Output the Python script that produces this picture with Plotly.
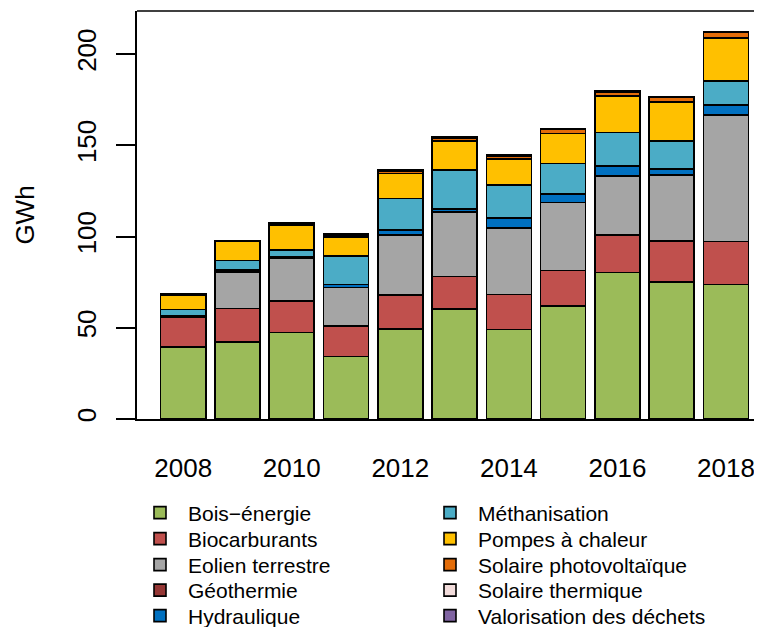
import plotly.graph_objects as go

years = [2008, 2009, 2010, 2011, 2012, 2013, 2014, 2015, 2016, 2017, 2018]
tick_years = [2008, 2010, 2012, 2014, 2016, 2018]

bois = [39.3, 42.2, 47.3, 34.2, 49.2, 60.3, 49.1, 61.9, 80.2, 75.1, 73.8]
biocarb = [16.6, 18.3, 17.5, 16.9, 18.7, 17.7, 19.2, 19.4, 20.8, 22.6, 23.4]
eolien = [0.3, 20.2, 23.3, 20.9, 32.9, 35.3, 36.4, 37.4, 32.3, 36.0, 69.4]
geoth = [0.0, 0.0, 0.0, 0.0, 0.0, 0.0, 0.0, 0.0, 0.0, 0.0, 0.0]
hydro = [0.3, 0.8, 0.8, 1.8, 2.8, 1.9, 5.4, 4.6, 5.5, 3.3, 5.5]
metha = [3.6, 5.3, 3.8, 15.5, 17.3, 21.2, 18.3, 16.8, 18.3, 15.2, 13.1]
pac = [7.8, 10.4, 13.7, 10.6, 13.7, 15.9, 14.1, 16.4, 19.9, 21.5, 23.7]
pv = [0.2, 0.3, 0.5, 1.0, 1.3, 1.8, 1.8, 2.2, 2.2, 2.4, 3.0]
sol_th = [0.3, 0.3, 0.4, 0.4, 0.5, 0.5, 0.5, 0.5, 0.5, 0.5, 0.5]
valor = [0.0, 0.0, 0.0, 0.0, 0.0, 0.0, 0.0, 0.0, 0.0, 0.0, 0.0]

series = [
    ("Bois−énergie", bois, "#9BBB59"),
    ("Biocarburants", biocarb, "#C0504D"),
    ("Eolien terrestre", eolien, "#A5A5A5"),
    ("Géothermie", geoth, "#953735"),
    ("Hydraulique", hydro, "#0070C0"),
    ("Méthanisation", metha, "#4BACC6"),
    ("Pompes à chaleur", pac, "#FFC000"),
    ("Solaire photovoltaïque", pv, "#E36C09"),
    ("Solaire thermique", sol_th, "#F2DCDB"),
    ("Valorisation des déchets", valor, "#8064A2"),
]

# page geometry (figure drawn at 8px body offset)
PX0, PX1, PY0, PY1 = 137, 762, 11, 419
row_centres = [513, 539, 565, 590.5, 616]
col_x = [132, 422]

font = dict(family="Liberation Sans, Arial, sans-serif", color="black")

fig = go.Figure()
legends = {}
for i, (name, vals, col) in enumerate(series):
    key = "legend" if i == 0 else f"legend{i + 1}"
    fig.add_trace(go.Bar(
        x=years, y=vals, name=name, legend=key,
        marker=dict(color=col, line=dict(color="black", width=1.6)),
    ))
    c, r = divmod(i, 5)
    legends[key] = dict(
        x=(col_x[c] - PX0) / (PX1 - PX0),
        y=(PY1 - row_centres[r]) / (PY1 - PY0),
        xanchor="left", yanchor="middle",
        font=dict(**font, size=21), bgcolor="rgba(0,0,0,0)",
        itemwidth=46,
    )

fig.update_layout(
    barmode="stack",
    bargap=0.17,
    width=754, height=619,
    margin=dict(l=129, r=0, t=3, b=208, autoexpand=False),
    paper_bgcolor="white", plot_bgcolor="white",
    font=dict(**font, size=21),
    showlegend=True,
    xaxis=dict(range=[2007.149, 2018.663], tickmode="array", tickvals=tick_years,
               ticktext=[str(t) for t in tick_years], ticks="", showgrid=False,
               zeroline=False, showline=True, linecolor="black", linewidth=1.5,
               tickfont=dict(**font, size=26), ticklabelstandoff=25),
    yaxis=dict(range=[0, 223.6], tickmode="array", tickvals=[0, 50, 100, 150, 200],
               ticks="outside", ticklen=19, tickwidth=1.5, tickcolor="black",
               showgrid=False, zeroline=False, showline=True, linecolor="black",
               linewidth=1.5, tickangle=-90, tickfont=dict(**font, size=26),
               ticklabelstandoff=10,
               title=dict(text="GWh", font=dict(**font, size=26), standoff=30)),
    shapes=[dict(type="line", xref="paper", yref="paper", x0=0, x1=1, y0=1, y1=1,
                 line=dict(color="black", width=1.5))],
    **legends,
)

fig.write_html("out.html")
